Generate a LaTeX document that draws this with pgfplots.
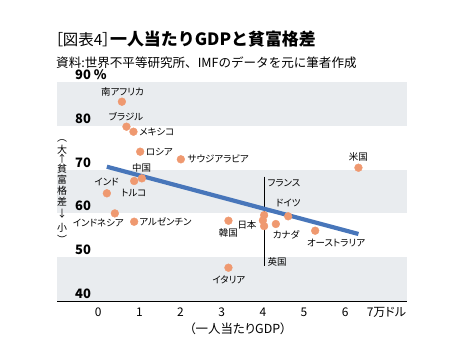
\documentclass[border=0pt]{standalone}
\usepackage{fontspec}
\setmainfont{Noto Sans CJK JP}[RawFeature=+palt]
\newfontfamily\fwfont{Noto Sans CJK JP}
\usepackage{pgfplots}
\pgfplotsset{compat=1.18}
\definecolor{band}{RGB}{233,236,239}
\definecolor{pt}{RGB}{239,153,112}
\definecolor{trend}{RGB}{72,118,186}
\newcommand\lab{\fontsize{9.5}{9.5}\selectfont}
\begin{document}
\begin{tikzpicture}
\path[use as bounding box] (0,0) rectangle (461bp,359bp);
\begin{axis}[
  at={(57bp,58bp)}, anchor=south west,
  scale only axis, width=350bp, height=219bp,
  xmin=-1, xmax=7.5, ymin=40, ymax=90,
  axis on top,
  axis x line*=bottom, axis y line*=left,
  y axis line style={draw=none},
  x axis line style={-, black, line width=1bp},
  xtick={0,...,7}, xticklabels={0,1,2,3,4,5,6,7万ドル},
  ytick={40,50,...,90}, yticklabels={40,50,60,70,80,90 \%},
  major tick length=0pt, tick style={draw=none},
  xticklabel style={font=\fontsize{12}{12}\selectfont, anchor=base, yshift=-15.5bp},
  yticklabel style={font=\fontsize{13}{13}\selectfont\bfseries, anchor=base west, xshift=18bp, yshift=2.5bp, inner sep=0pt},
  xlabel={（一人当たりGDP）},
  xlabel style={font=\fontsize{12.5}{12.5}\selectfont, at={(axis description cs:0.517,0)}, anchor=base, yshift=-32bp},
  clip=false,
]
\fill[band] (axis cs:-1,80) rectangle (axis cs:7.5,90);
\fill[band] (axis cs:-1,60) rectangle (axis cs:7.5,70);
\fill[band] (axis cs:-1,40) rectangle (axis cs:7.5,50);
\addplot[black, line width=0.8bp] coordinates {(4.03,68.4) (4.03,47.9)};
\addplot[trend, line width=4.2bp] coordinates {(0.211,70.66) (6.321,55.3)};
\addplot[only marks, mark=*, color=pt, mark size=3.9bp] coordinates {
(0.576,85.5) (0.687,79.8) (0.857,78.65) (1.02,74.09) (2.008,72.35)
(1.061,68.0) (0.874,67.4) (0.211,64.59) (0.405,60.0) (0.874,58.1)
(3.164,58.33) (3.164,47.6) (6.321,70.43) (4.03,59.6) (4.0,58.4)
(4.03,57.1) (4.614,59.34) (4.315,57.58) (5.27,56.05)
};
\node[font=\lab] at (axis cs:0.59,87.79) {南アフリカ};
\node[font=\lab] at (axis cs:0.673,82.08) {ブラジル};
\node[font=\lab, anchor=west, inner sep=0] at (axis cs:0.996,78.65) {メキシコ};
\node[font=\lab, anchor=west, inner sep=0] at (axis cs:1.158,74.09) {ロシア};
\node[font=\lab, anchor=west, inner sep=0] at (axis cs:2.169,72.35) {サウジアラビア};
\node[font=\lab] at (axis cs:1.056,70.30) {中国};
\node[font=\lab] at (axis cs:0.867,64.59) {トルコ};
\node[font=\lab] at (axis cs:0.206,67.24) {インド};
\node[font=\lab] at (axis cs:0.005,57.88) {インドネシア};
\node[font=\lab, anchor=west, inner sep=0] at (axis cs:0.996,58.11) {アルゼンチン};
\node[font=\lab] at (axis cs:3.162,55.59) {韓国};
\node[font=\lab] at (axis cs:3.174,44.79) {イタリア};
\node[font=\lab] at (axis cs:6.319,72.95) {米国};
\node[font=\lab, anchor=west, inner sep=0] at (axis cs:4.111,67.01) {フランス};
\node[font=\lab] at (axis cs:4.614,62.31) {ドイツ};
\node[font=\lab, anchor=east, inner sep=0] at (axis cs:3.849,57.35) {日本};
\node[font=\lab] at (axis cs:4.565,55.07) {カナダ};
\node[font=\lab] at (axis cs:5.779,53.17) {オーストラリア};
\node[font=\lab, anchor=west, inner sep=0] at (axis cs:4.111,48.97) {英国};
\end{axis}
\node[anchor=west, font=\fontsize{15.5}{15.5}\selectfont, inner sep=0] at (55bp,320bp) {［図表4］{\fwfont\fontsize{17}{17}\selectfont\bfseries 一人当たりGDPと貧富格差}};
\node[anchor=west, font=\fwfont\fontsize{12.6}{12.6}\selectfont, inner sep=0] at (56bp,296bp) {資料:世界不平等研究所、IMFのデータを元に筆者作成};
\foreach \c/\y in {︵/218, 大/209.5, ↑/200.5, 貧/190.5, 富/179.5, 格/168.5, 差/157.5, ↓/145, 小/131, ︶/119.5}
  \node[font=\fwfont\fontsize{10}{10}\selectfont, inner sep=0] at (62bp,\y bp) {\c};
\end{tikzpicture}
\end{document}
